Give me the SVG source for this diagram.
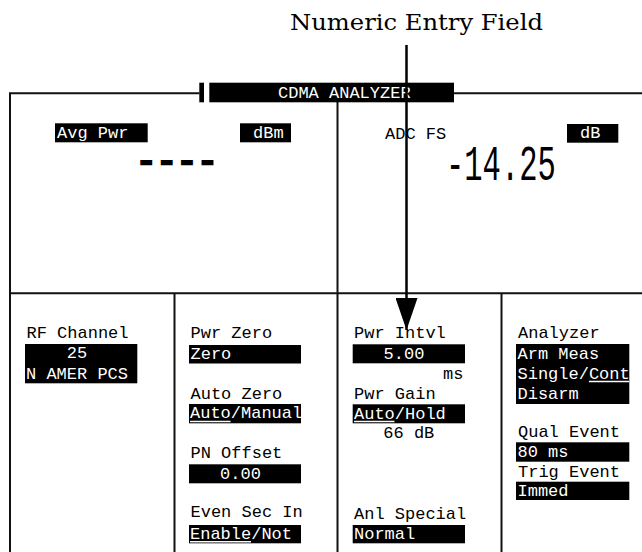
<svg xmlns="http://www.w3.org/2000/svg" width="642" height="552" viewBox="0 0 642 552">
<style>
.t{font-family:"Liberation Mono","DejaVu Sans Mono",monospace;font-size:17px;fill:#000}
.w{fill:#fff}
.bx{fill:#000}
.ln{stroke:#111;stroke-width:2;fill:none}
.ul{stroke:#fff;stroke-width:1.5}
.cap{font-family:"DejaVu Serif","Liberation Serif",serif;font-size:23px;fill:#000}
</style>
<defs>
<marker id="ah" markerUnits="userSpaceOnUse" markerWidth="32" markerHeight="22" refX="32" refY="11" orient="auto" viewBox="0 0 32 22">
<path d="M0,0 L32,11 L0,22 Z" fill="#000"/>
</marker>
</defs>
<rect width="642" height="552" fill="#fff"/>

<g id="caption">
<text class="cap" x="290" y="30" textLength="253" lengthAdjust="spacingAndGlyphs">Numeric Entry Field</text>
</g>

<g id="frame">
<path class="ln" d="M10,552 V93.3 H199.5 M454,93.3 H642 M10,293.3 H642 M337.5,102 V552 M174.5,293.3 V552 M501.5,293.3 V552"/>
</g>

<g id="title">
<rect class="bx" x="199.3" y="82.7" width="4.7" height="19.6"/>
<rect class="bx" x="209.3" y="82.7" width="244.7" height="19.6"/>
<text class="t w" x="278" y="98">CDMA ANALYZER</text>
</g>

<g id="avg-pwr">
<rect class="bx" x="55" y="123.3" width="92.7" height="19"/>
<text class="t w" x="57" y="137.5">Avg Pwr</text>
<rect class="bx" x="240" y="123.3" width="51" height="19"/>
<text class="t w" x="253" y="137.5">dBm</text>
<text class="t" transform="translate(136,172) scale(1,1)" style="font-size:34px" stroke="#000" stroke-width="2.6">----</text>
</g>

<g id="adc-fs">
<text class="t" x="385" y="139">ADC FS</text>
<rect class="bx" x="567" y="124" width="51.3" height="18.7"/>
<text class="t w" x="580" y="138">dB</text>
<text class="t" transform="translate(446,179.5) scale(0.61,1)" style="font-size:50px">-14.25</text>
</g>

<g id="rf-channel">
<text class="t" x="26.5" y="338.3">RF Channel</text>
<rect class="bx" x="25" y="344" width="112.3" height="39.3"/>
<text class="t w" x="77" y="358.3" text-anchor="middle">25</text>
<text class="t w" x="26" y="379">N AMER PCS</text>
</g>

<g id="pwr-zero">
<text class="t" x="190.5" y="338.3">Pwr Zero</text>
<rect class="bx" x="189" y="345" width="112" height="18.5"/>
<text class="t w" x="190.5" y="359">Zero</text>
</g>

<g id="auto-zero">
<text class="t" x="190.5" y="399.3">Auto Zero</text>
<rect class="bx" x="189" y="404" width="112" height="19.3"/>
<text class="t w" x="190" y="418.3">Auto/Manual</text>
<line class="ul" x1="190" y1="421.5" x2="230.5" y2="421.5"/>
</g>

<g id="pn-offset">
<text class="t" x="190.5" y="457.7">PN Offset</text>
<rect class="bx" x="189" y="464.3" width="112" height="19"/>
<text class="t w" x="240.5" y="478.5" text-anchor="middle">0.00</text>
</g>

<g id="even-sec-in">
<text class="t" x="190.5" y="516.7">Even Sec In</text>
<rect class="bx" x="189" y="525" width="112" height="18.3"/>
<text class="t w" x="190" y="539">Enable/Not</text>
<line class="ul" x1="190" y1="541.8" x2="251" y2="541.8"/>
</g>

<g id="pwr-intvl">
<text class="t" x="354" y="338.3">Pwr Intvl</text>
<rect class="bx" x="352.7" y="344.3" width="112.3" height="19"/>
<text class="t w" x="404" y="358.5" text-anchor="middle">5.00</text>
<text class="t" x="463.5" y="379.3" text-anchor="end">ms</text>
</g>

<g id="pwr-gain">
<text class="t" x="354" y="399">Pwr Gain</text>
<rect class="bx" x="352.7" y="404.3" width="112.3" height="19"/>
<text class="t w" x="354" y="418.5">Auto/Hold</text>
<line class="ul" x1="354" y1="421.5" x2="394.5" y2="421.5"/>
<text class="t" x="383.3" y="438.3">66 dB</text>
</g>

<g id="anl-special">
<text class="t" x="354" y="519.3">Anl Special</text>
<rect class="bx" x="352.7" y="525" width="112.3" height="18.3"/>
<text class="t w" x="354" y="539">Normal</text>
</g>

<g id="analyzer">
<text class="t" x="518" y="338.3">Analyzer</text>
<rect class="bx" x="516" y="344" width="113.3" height="60"/>
<text class="t w" x="517.5" y="358.5">Arm Meas</text>
<text class="t w" x="517.5" y="378.5">Single/Cont</text>
<line class="ul" x1="588.9" y1="381.5" x2="629" y2="381.5"/>
<text class="t w" x="517.5" y="398.5">Disarm</text>
</g>

<g id="qual-event">
<text class="t" x="518" y="436.8">Qual Event</text>
<rect class="bx" x="516" y="442.3" width="113.3" height="19.4"/>
<text class="t w" x="517.5" y="456.5">80 ms</text>
</g>

<g id="trig-event">
<text class="t" x="518" y="476.5">Trig Event</text>
<rect class="bx" x="516" y="481.7" width="113.3" height="18.3"/>
<text class="t w" x="517.5" y="495.8">Immed</text>
</g>

<g id="connectors">
<line x1="406.5" y1="45" x2="406.5" y2="330" stroke="#000" stroke-width="2.5" marker-end="url(#ah)"/>
</g>
</svg>
